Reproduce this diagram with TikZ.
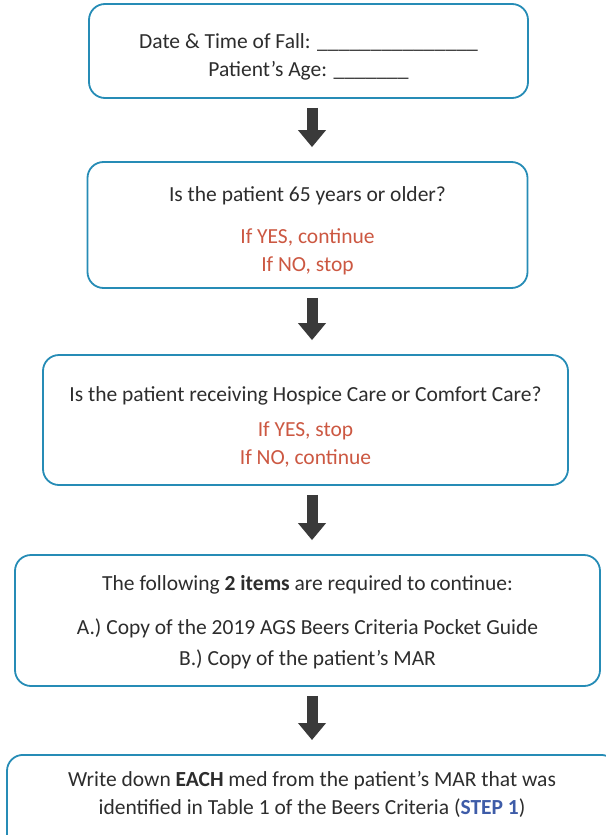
\documentclass[tikz,border=0pt]{standalone}
\usepackage{fontspec}
\setmainfont{Carlito}
\usepackage{xcolor}
\usepackage{tikz}
\usetikzlibrary{arrows.meta}
\definecolor{boxblue}{RGB}{38,140,182}
\definecolor{txtgrey}{RGB}{45,45,45}
\definecolor{ansred}{RGB}{204,88,66}
\definecolor{stepblue}{RGB}{62,92,168}
\definecolor{arrgrey}{RGB}{58,58,58}
\newcommand\ans[1]{\textcolor{ansred}{#1}}
\newcommand\blank[1]{\foreach \i in {1,...,#1}{\_}}
\tikzstyle{box}=[draw=boxblue,line width=1.8pt,rounded corners=16pt,fill=white]
\tikzstyle{txt}=[align=center,text=txtgrey,font=\fontsize{21.5}{28}\selectfont]
\tikzstyle{down}=[arrgrey,line width=11pt,-{Triangle[length=17pt,width=27pt]},shorten <=9pt,shorten >=14pt]

\begin{document}
\begin{tikzpicture}[x=1pt,y=-1pt]
	\useasboundingbox[fill=white] (0,0) rectangle (605,835);
	% boxes
	\node[box,minimum width=439,minimum height=94] (b1) at (308.5,51) {};
	\node[box,minimum width=440,minimum height=126] (b2) at (307.5,225) {};
	\node[box,minimum width=525,minimum height=130] (b3) at (305.5,420) {};
	\node[box,minimum width=585,minimum height=131] (b4) at (307.5,620.5) {};
	\node[box,anchor=north,minimum width=610,minimum height=110] (b5) at (312,754) {};
	% texts
	\node[txt] (b1t) at ([yshift=-6pt]b1)
	  {Date \& Time of Fall: \blank{15}\\ Patient’s Age: \blank{7}};
	\node[txt] (b2t) at ([yshift=-6pt]b2)
	  {Is the patient 65 years or older?\\[14pt] \ans{If YES, continue}\\ \ans{If NO, stop}};
	\node[txt] (b3t) at ([yshift=-7pt]b3)
	  {Is the patient receiving Hospice Care or Comfort Care?\\[7pt] \ans{If YES, stop}\\ \ans{If NO, continue}};
	\node[txt] (b4t) at ([yshift=-1.5pt]b4)
	  {The following \textbf{2 items} are required to continue:\\[16pt]
	   A.) Copy of the 2019 AGS Beers Criteria Pocket Guide\\[3pt] B.) Copy of the patient’s MAR};
	\node[txt] (b5t) at ([yshift=-40pt]b5.north)
	  {Write down \textbf{EACH} med from the patient’s MAR that was\\
	   identified in Table 1 of the Beers Criteria (\textcolor{stepblue}{\textbf{STEP 1}})};
	% arrows
	\coordinate (ax) at (312,0);
	\draw[down] (b1.south -| ax) -- (b2.north -| ax);
	\draw[down] (b2.south -| ax) -- (b3.north -| ax);
	\draw[down] (b3.south -| ax) -- (b4.north -| ax);
	\draw[down] (b4.south -| ax) -- (b5.north -| ax);
\end{tikzpicture}
\end{document}
